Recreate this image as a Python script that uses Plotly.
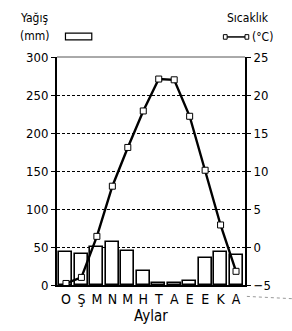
import plotly.graph_objects as go

months = ["O", "Ş", "M", "N", "M", "H", "T", "A", "E", "E", "K", "A"]
precip_mm = [43, 41, 50, 57, 45, 19, 2, 2, 5, 35, 44, 40]
temp_c = [-4.8, -4.0, 1.4, 8.0, 13.1, 17.9, 22.1, 22.0, 17.2, 10.1, 2.9, -3.2]
left_ticks = [0, 50, 100, 150, 200, 250, 300]
right_ticks = [-5, 0, 5, 10, 15, 20, 25]

FONT = "DejaVu Sans Condensed, Liberation Sans Narrow, Arial Narrow, Liberation Sans"
x = list(range(len(months)))

fig = go.Figure()
fig.add_trace(go.Bar(
    x=x, y=precip_mm, width=0.84,
    marker=dict(color="white", line=dict(color="black", width=1.6)),
    yaxis="y", showlegend=False,
))
fig.add_trace(go.Scatter(
    x=x, y=temp_c, mode="lines+markers", yaxis="y2",
    line=dict(color="black", width=2.4),
    marker=dict(symbol="square", size=6, color="white", line=dict(color="black", width=1)),
    showlegend=False,
))

fig.update_layout(
    width=292, height=331,
    margin=dict(l=57, r=47, t=57, b=46, autoexpand=False),
    paper_bgcolor="white", plot_bgcolor="white",
    font=dict(family=FONT, size=12, color="black"),
    bargap=0,
    xaxis=dict(
        tickmode="array", tickvals=x, ticktext=months,
        range=[-0.58, 11.58], showgrid=False, zeroline=False,
        showline=True, linecolor="black", linewidth=2,
        ticks="", tickfont=dict(size=14, family=FONT), automargin=False,
        title=dict(text="Aylar", font=dict(size=15, family=FONT), standoff=0),
        fixedrange=True,
    ),
    yaxis=dict(
        range=[0, 300], tickmode="array", tickvals=left_ticks,
        showgrid=True, gridcolor="black", gridwidth=1.2, griddash="3px,2px",
        zeroline=False, showline=True, linecolor="black", linewidth=2,
        ticks="outside", ticklen=4, tickcolor="black", tickwidth=1,
        tickfont=dict(size=13, family=FONT), automargin=False,
    ),
    yaxis2=dict(
        range=[-5, 25], tickmode="array", tickvals=right_ticks,
        overlaying="y", side="right", showgrid=False, zeroline=False,
        showline=True, linecolor="black", linewidth=2,
        ticks="outside", ticklen=4, tickcolor="black", tickwidth=1,
        tickfont=dict(size=13, family=FONT), automargin=False,
    ),
    shapes=[
        dict(type="line", xref="paper", yref="paper", x0=0, x1=1, y0=1, y1=1,
             line=dict(color="#555", width=1)),
        dict(type="rect", xref="paper", yref="paper", x0=0.045, x1=0.185, y0=1.075, y1=1.105,
             line=dict(color="black", width=1.2), fillcolor="white"),
        dict(type="line", xref="paper", yref="paper", x0=0.90, x1=1.01, y0=1.088, y1=1.088,
             line=dict(color="black", width=1.5)),
        dict(type="rect", xref="paper", yref="paper", x0=0.885, x1=0.905, y0=1.078, y1=1.098,
             line=dict(color="black", width=1), fillcolor="white"),
        dict(type="rect", xref="paper", yref="paper", x0=1.0, x1=1.02, y0=1.078, y1=1.098,
             line=dict(color="black", width=1), fillcolor="white"),
        dict(type="line", xref="paper", yref="paper", x0=1.01, x1=1.25, y0=-0.05, y1=-0.06,
             line=dict(color="#999", width=1, dash="dot")),
    ],
    annotations=[
        dict(text="Yağış", xref="paper", yref="paper", x=-0.21, y=1.171,
             xanchor="left", yanchor="middle", showarrow=False, font=dict(size=12, family=FONT)),
        dict(text="(mm)", xref="paper", yref="paper", x=-0.21, y=1.09,
             xanchor="left", yanchor="middle", showarrow=False, font=dict(size=12, family=FONT)),
        dict(text="Sıcaklık", xref="paper", yref="paper", x=1.14, y=1.171,
             xanchor="right", yanchor="middle", showarrow=False, font=dict(size=12, family=FONT)),
        dict(text="(°C)", xref="paper", yref="paper", x=1.16, y=1.088,
             xanchor="right", yanchor="middle", showarrow=False, font=dict(size=12, family=FONT)),
    ],
)

fig.write_html("out.html", config={"displayModeBar": False},
               post_script="document.body.style.margin='0';")
